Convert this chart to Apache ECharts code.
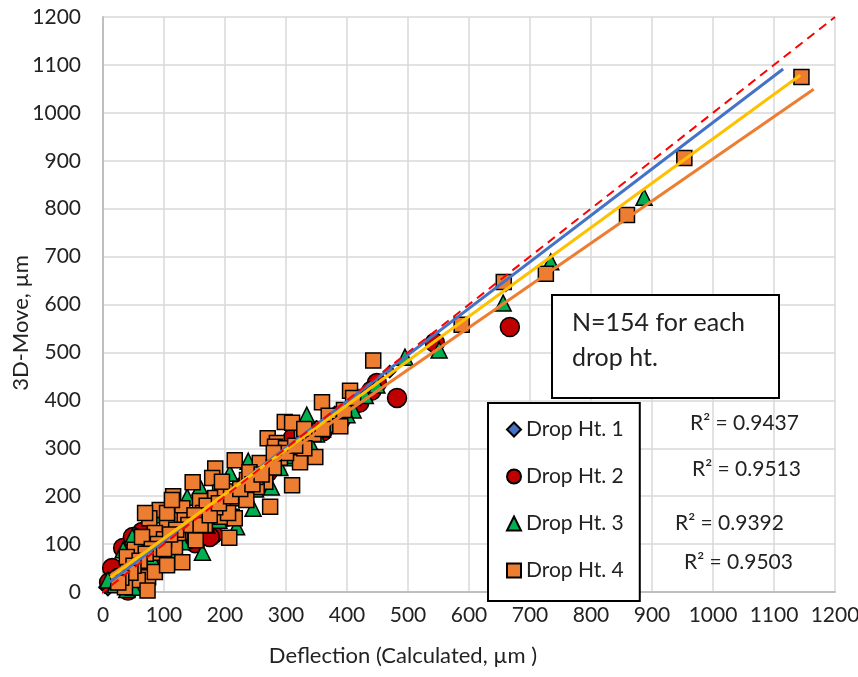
<!DOCTYPE html>
<html>
<head>
<meta charset="utf-8">
<script src="https://cdn.jsdelivr.net/npm/echarts@6/dist/echarts.min.js"></script>
<style>
  html, body { margin: 0; padding: 0; background: #fff; }
  #main { width: 858px; height: 677px; }
</style>
</head>
<body>
<div id="main"></div>
<script>
// data: [deflection, 3D-Move]
var seriesNames = ['Drop Ht. 1', 'Drop Ht. 2', 'Drop Ht. 3', 'Drop Ht. 4'];

var dropHt1 = [[3,10],[8,5],[11,25],[20,30],[30,35],[40,45],[55,60],[70,75],[85,90],[100,105],[120,125],
  [140,145],[160,160],[180,180],[200,200],[230,230],[260,255],[290,290],[320,315],[350,345],[380,375],
  [420,410],[470,460],[540,520],[660,640]];

var dropHt2 = [[667,553],[544,520],[482,405],[449,436],[33,92],[20,40],[180,120],[64,125],[15,50],[41,3],
  [203,157],[151,102],[49,115],[175,115],[311,321],[10,20],[25,30],[50,60],[70,80],[90,95],[110,105],
  [130,125],[160,150],[190,175],[220,200],[250,235],[280,265],[300,285],[330,310],[360,335],[390,360],
  [420,395],[440,420],[120,140],[80,60],[100,75],[140,110],[230,220],[270,250]];

var dropHt3 = [[887,824],[734,689],[656,603],[495,490],[551,505],[449,432],[334,369],[276,219],[246,175],
  [219,136],[163,83],[238,273],[208,248],[138,198],[105,177],[85,165],[159,219],[85,161],[48,115],[33,88],
  [39,5],[8,25],[20,15],[30,40],[60,60],[80,70],[100,100],[120,120],[140,130],[180,170],[200,190],[220,210],
  [260,240],[300,280],[320,300],[350,330],[380,350],[410,380],[430,410],[60,30],[50,10],[70,45],[110,80],
  [130,105],[150,120],[170,140],[190,150],[250,215],[290,260],[310,285],[340,310],[360,340],[400,370]];

var dropHt4 = [[1145,1075],[953,906],[859,787],[726,664],[657,647],[588,558],[443,483],[405,420],[359,396],
  [370,368],[389,346],[326,332],[298,355],[310,353],[270,321],[285,311],[282,303],[348,282],[323,271],
  [310,223],[274,178],[261,261],[257,269],[236,234],[266,230],[252,219],[216,275],[184,258],[179,238],
  [147,229],[192,207],[115,200],[159,190],[184,196],[203,182],[221,196],[235,192],[211,157],[195,157],
  [216,154],[205,165],[207,113],[164,165],[167,150],[138,157],[130,175],[113,150],[93,171],[76,154],
  [126,125],[105,144],[152,108],[118,94],[123,123],[85,123],[105,165],[69,165],[134,150],[167,140],
  [184,177],[113,192],[52,88],[64,115],[41,52],[56,52],[74,31],[57,25],[91,82],[85,42],[105,56],[130,62],
  [36,10],[73,3],[39,73],[345,330],[360,340],[395,380],[410,405],[330,300],[300,300],[290,280],[280,260],
  [250,240],[240,250],[200,210],[170,180],[150,160],[140,140],[120,130],[100,110],[90,100],[80,90],[70,80],
  [60,65],[50,55],[45,40],[30,30],[25,20],[100,90],[110,120],[160,140],[175,160],[190,185],[210,200],
  [225,215],[245,225],[260,245],[300,290],[315,305],[330,340],[280,290],[195,230]];

// linear trend lines: [slope, intercept, xStart, xEnd]
var trendBlue = [0.97, 10, 11, 1115];
var trendOrange = [0.88, 24, 12, 1165];
var trendYellow = [0.927, 19, 12, 1143];
var equalityLine = [[-25, -25], [1200, 1200]];

var rSquared = ['R² = 0.9437', 'R² = 0.9513', 'R² = 0.9392', 'R² = 0.9503'];
var noteLines = ['N=154 for each', 'drop ht.'];

var xTitle = 'Deflection (Calculated, µm )';
var yTitle = '3D-Move, µm';

var myChart = echarts.init(document.getElementById('main'));
var font = 'Lato';

function trendData(t) {
  return [[t[2], t[0] * t[2] + t[1]], [t[3], t[0] * t[3] + t[1]]];
}

function scatter(name, data, symbol, size, color) {
  return {
    name: name,
    type: 'scatter',
    data: data,
    symbol: symbol,
    symbolSize: size,
    itemStyle: { color: color, borderColor: '#000', borderWidth: 1.5, opacity: 1 },
    z: 2
  };
}

function trend(t, color) {
  return {
    type: 'line',
    data: trendData(t),
    showSymbol: false,
    silent: true,
    lineStyle: { color: color, width: 3 },
    z: 3
  };
}

var rPos = [[690, 423], [692, 469], [675, 523], [684, 562]];
var graphics = [
  { type: 'text', x: 403, y: 656,
    style: { text: xTitle, font: '22px ' + font, fill: '#222',
      align: 'center', verticalAlign: 'middle', textAlign: 'center', textVerticalAlign: 'middle' } },
  { type: 'text', x: 21, y: 323, rotation: Math.PI / 2,
    style: { text: yTitle, font: '22px ' + font, fill: '#222',
      align: 'center', verticalAlign: 'middle', textAlign: 'center', textVerticalAlign: 'middle' } },
  { type: 'rect', shape: { x: 552, y: 295, width: 227, height: 103 },
    style: { fill: '#fff', stroke: '#000', lineWidth: 2 }, z: 10 },
  { type: 'text', x: 572, y: 305, z: 11,
    style: { text: noteLines.join('\n'), font: '25px ' + font, lineHeight: 35, fill: '#222' } }
];
for (var i = 0; i < rSquared.length; i++) {
  graphics.push({ type: 'text', x: rPos[i][0], y: rPos[i][1], z: 11,
    style: { text: rSquared[i], font: '21px ' + font, fill: '#222',
      verticalAlign: 'middle', textVerticalAlign: 'middle' } });
}

option = {
  backgroundColor: '#fff',
  animation: false,
  grid: { left: 103, right: 23, top: 17, bottom: 85, containLabel: false, outerBoundsMode: 'none' },
  xAxis: {
    type: 'value', min: 0, max: 1200, interval: 100,
    axisLine: { show: true, lineStyle: { color: '#BFBFBF', width: 2 } },
    axisTick: { show: false },
    axisLabel: { margin: 13, fontFamily: font, fontSize: 21, color: '#222',
      formatter: function (v) { return String(v); } },
    splitLine: { lineStyle: { color: '#D9D9D9', width: 1.5 } }
  },
  yAxis: {
    type: 'value', min: 0, max: 1200, interval: 100,
    axisLine: { show: true, lineStyle: { color: '#BFBFBF', width: 2 } },
    axisTick: { show: false },
    axisLabel: { margin: 22, fontFamily: font, fontSize: 21, color: '#222',
      formatter: function (v) { return String(v); } },
    splitLine: { lineStyle: { color: '#D9D9D9', width: 1.5 } }
  },
  legend: {
    data: seriesNames,
    orient: 'vertical',
    left: 488, top: 403,
    padding: [16, 16, 20, 18],
    itemGap: 26,
    itemWidth: 14, itemHeight: 14,
    backgroundColor: '#fff',
    borderColor: '#000', borderWidth: 2, borderRadius: 0,
    textStyle: { fontFamily: font, fontSize: 21, color: '#222' },
    z: 12
  },
  graphic: graphics,
  series: [
    scatter(seriesNames[0], dropHt1, 'diamond', 12, '#4472C4'),
    scatter(seriesNames[1], dropHt2, 'circle', 19, '#C00000'),
    scatter(seriesNames[2], dropHt3, 'triangle', 16, '#00B050'),
    scatter(seriesNames[3], dropHt4, 'rect', 15, '#ED7D31'),
    trend(trendBlue, '#4472C4'),
    trend(trendOrange, '#ED7D31'),
    trend(trendYellow, '#FFC000'),
    {
      type: 'line',
      data: equalityLine,
      showSymbol: false,
      silent: true,
      clip: false,
      lineStyle: { color: '#FF0000', width: 2, type: [9, 6] },
      z: 4
    }
  ]
};
myChart.setOption(option, true);
</script>
</body>
</html>
